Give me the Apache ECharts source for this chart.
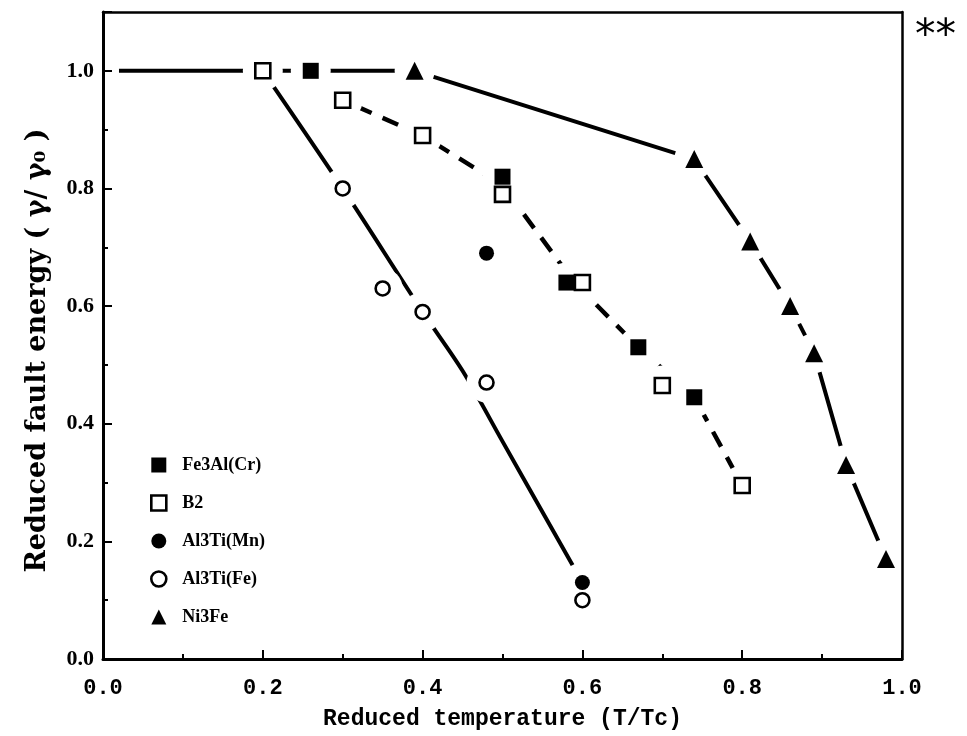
<!DOCTYPE html>
<html>
<head>
<meta charset="utf-8">
<script src="https://cdn.jsdelivr.net/npm/echarts@6/dist/echarts.min.js"></script>
<style>
  html, body { margin: 0; padding: 0; background: #fff; }
  #chart { width: 967px; height: 736px; }
</style>
</head>
<body>
<div id="chart"></div>
<script>
// Axis ranges
const X_MIN = 0, X_MAX = 1.0, X_STEP = 0.2;
const Y_MIN = 0, Y_MAX = 1.1, Y_STEP = 0.2;

// Measured points [T/Tc, gamma/gamma0]
const fe3alCr = [[0.26, 1.0], [0.50, 0.82], [0.58, 0.64], [0.67, 0.53], [0.74, 0.445]];
const b2      = [[0.20, 1.0], [0.30, 0.95], [0.40, 0.89], [0.50, 0.79], [0.60, 0.64], [0.70, 0.465], [0.80, 0.295]];
const al3tiMn = [[0.48, 0.69], [0.60, 0.13]];
const al3tiFe = [[0.30, 0.80], [0.35, 0.63], [0.40, 0.59], [0.48, 0.47], [0.60, 0.10]];
const ni3fe   = [[0.39, 1.0], [0.74, 0.85], [0.81, 0.71], [0.86, 0.60], [0.89, 0.52], [0.93, 0.33], [0.98, 0.17]];

// Guide curves drawn through the data
const curveNi3Fe   = [[0.02, 1.0], [0.39, 1.0], [0.74, 0.85], [0.81, 0.71], [0.86, 0.60], [0.89, 0.52], [0.93, 0.33], [0.98, 0.17]];
const curveFe3Al   = [[0.26, 1.0], [0.30, 0.95], [0.40, 0.89], [0.50, 0.805], [0.59, 0.64], [0.67, 0.53], [0.74, 0.445], [0.80, 0.295]];
const curveAl3TiFe = [[0.20, 1.0], [0.30, 0.80], [0.40, 0.59], [0.45, 0.49], [0.50, 0.37], [0.55, 0.25], [0.60, 0.13]];

const names = ['Fe3Al(Cr)', 'B2', 'Al3Ti(Mn)', 'Al3Ti(Fe)', 'Ni3Fe'];

const SERIF = '"Liberation Serif", "Times New Roman", serif';
const WIDE_SERIF = '"DejaVu Serif", serif';
const MONO = '"Liberation Mono", monospace';
const INK = '#000';

const chart = echarts.init(document.getElementById('chart'));

// white discs under every marker so the guide lines break around the symbols
const allPoints = [].concat(fe3alCr, b2, al3tiMn, al3tiFe, ni3fe);

function guide(data, dashed, smooth) {
  return {
    type: 'line', data: data, showSymbol: false, silent: true, z: 2,
    smooth: smooth || false,
    lineStyle: { color: INK, width: dashed ? 4.5 : 4, type: dashed ? [17, 12] : 'solid', cap: 'butt' },
    emphasis: { disabled: true }
  };
}

function marks(name, data, symbol, size, open) {
  return {
    type: 'scatter', name: name, data: data, symbol: symbol, symbolSize: size, z: 4,
    itemStyle: open
      ? { color: '#fff', borderColor: INK, borderWidth: 2.6, opacity: 1 }
      : { color: INK, borderWidth: 0, opacity: 1 },
    emphasis: { disabled: true }
  };
}

const hidden = { show: false };

chart.setOption({
  animation: false,
  backgroundColor: '#fff',
  grid: { left: 103, right: 65, top: 12, bottom: 76, containLabel: false },
  legend: {
    orient: 'vertical', left: 145, top: 451,
    itemWidth: 15, itemHeight: 15, itemGap: 20,
    selectedMode: false,
    textStyle: { fontFamily: SERIF, fontWeight: 'bold', fontSize: 18, color: INK, padding: [0, 0, 0, 11] },
    data: [
      { name: 'Fe3Al(Cr)', icon: 'rect', itemStyle: { color: INK, borderWidth: 0 } },
      { name: 'B2', icon: 'rect', itemStyle: { color: '#fff', borderColor: INK, borderWidth: 2.6 } },
      { name: 'Al3Ti(Mn)', icon: 'circle', itemStyle: { color: INK, borderWidth: 0 } },
      { name: 'Al3Ti(Fe)', icon: 'circle', itemStyle: { color: '#fff', borderColor: INK, borderWidth: 2.6 } },
      { name: 'Ni3Fe', icon: 'triangle', itemStyle: { color: INK, borderWidth: 0 } }
    ]
  },
  graphic: [{
    type: 'text', left: 915, top: 17, z: 20,
    style: { text: '**', font: '41px "DejaVu Sans", sans-serif', fill: INK }
  }],
  xAxis: [{
    type: 'value', min: X_MIN, max: X_MAX, interval: X_STEP, z: 10,
    name: 'Reduced temperature (T/Tc)', nameLocation: 'middle', nameGap: 49,
    nameTextStyle: { fontFamily: MONO, fontWeight: 'bold', fontSize: 23, color: INK },
    axisLine: { show: true, onZero: false, lineStyle: { color: INK, width: 3 } },
    axisTick: { show: true, inside: true, length: 9, lineStyle: { color: INK, width: 2 } },
    minorTick: { show: true, splitNumber: 2, length: 5, lineStyle: { color: INK, width: 2 } },
    splitLine: hidden,
    axisLabel: { margin: 18, fontFamily: MONO, fontWeight: 'bold', fontSize: 22, color: INK,
      formatter: v => v.toFixed(1) }
  }, {
    type: 'value', position: 'top', min: X_MIN, max: X_MAX, interval: X_STEP, z: 10,
    axisLine: { show: true, onZero: false, lineStyle: { color: INK, width: 2.5 } },
    axisTick: hidden, axisLabel: hidden, splitLine: hidden
  }],
  yAxis: [{
    type: 'value', min: Y_MIN, max: Y_MAX, interval: Y_STEP, z: 10,
    name: 'Reduced fault energy ( γ/ γ₀ )', nameLocation: 'middle', nameGap: 52, nameRotate: 90,
    nameTextStyle: { fontFamily: WIDE_SERIF, fontWeight: 'bold', fontSize: 27, color: INK, padding: [0, 30, 0, 0] },
    axisLine: { show: true, onZero: false, lineStyle: { color: INK, width: 3 } },
    axisTick: { show: true, inside: true, length: 9, lineStyle: { color: INK, width: 2 } },
    minorTick: { show: true, splitNumber: 2, length: 5, lineStyle: { color: INK, width: 2 } },
    splitLine: hidden,
    axisLabel: { margin: 9, showMaxLabel: false, fontFamily: SERIF, fontWeight: 'bold', fontSize: 22, color: INK,
      formatter: v => v.toFixed(1) }
  }, {
    type: 'value', position: 'right', min: Y_MIN, max: Y_MAX, interval: Y_STEP, z: 10,
    axisLine: { show: true, onZero: false, lineStyle: { color: INK, width: 2.5 } },
    axisTick: hidden, axisLabel: hidden, splitLine: hidden
  }],
  series: [
    guide(curveNi3Fe, false, false),
    guide(curveFe3Al, true, false),
    guide(curveAl3TiFe, false, 0.3),
    {
      type: 'scatter', data: allPoints, symbol: 'circle', symbolSize: 40, z: 3, silent: true,
      itemStyle: { color: '#fff', opacity: 1 }, emphasis: { disabled: true }
    },
    marks(names[0], fe3alCr, 'rect', 16, false),
    marks(names[1], b2, 'rect', 15, true),
    marks(names[2], al3tiMn, 'circle', 15, false),
    marks(names[3], al3tiFe, 'circle', 14, true),
    marks(names[4], ni3fe, 'triangle', 18, false)
  ]
});
</script>
</body>
</html>
